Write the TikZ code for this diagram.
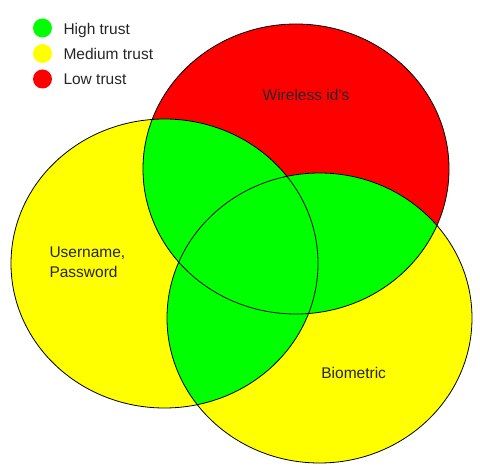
\documentclass[tikz,border=0pt]{standalone}
\usepackage{fontspec}
\setmainfont{Liberation Sans}
\definecolor{tgreen}{HTML}{00FF00}
\definecolor{tyellow}{HTML}{FFFF00}
\definecolor{tred}{HTML}{FF0000}
\begin{document}
\begin{tikzpicture}[x=1pt,y=-1pt,
  lbl/.style={font=\fontsize{15.5}{20}\selectfont, text=black!85, inner sep=0pt},
  dot/.style={circle, minimum size=19pt, inner sep=0pt},
  outline/.style={draw=black, line width=0.8pt}]
\useasboundingbox (0,0) rectangle (480,470);
\def\Lell{(164.5,263.5) ellipse [x radius=153.5, y radius=144.5]}
\def\Tell{(296,169) ellipse [x radius=153, y radius=145]}
\def\Bell{(319.5,318) ellipse [x radius=152.5, y radius=145]}
% base fills
\fill[tyellow] \Lell;
\fill[tred] \Tell;
\fill[tyellow] \Bell;
% pairwise overlaps
\begin{scope}\clip \Lell; \fill[tgreen] \Tell; \fill[tgreen] \Bell; \end{scope}
\begin{scope}\clip \Tell; \fill[tgreen] \Bell; \end{scope}
% outlines
\draw[outline] \Lell;
\draw[outline] \Tell;
\draw[outline] \Bell;
% labels
\node[lbl, anchor=base] (wir) at (306,101) {Wireless id's};
\node[lbl, anchor=base west, align=left] (usr) at (49.3,258) {Username,};
\node[lbl, anchor=base west] (pwd) at (49.3,278) {Password};
\node[lbl, anchor=base] (bio) at (353.7,379) {Biometric};
% legend
\node[dot, fill=tgreen] (lg) at (42.5,28) {};
\node[dot, fill=tyellow] (ly) at (42.5,53.5) {};
\node[dot, fill=tred] (lr) at (42.5,79) {};
\node[lbl, anchor=base west] (tg) at (63.3,35) {High trust};
\node[lbl, anchor=base west] (ty) at (63.3,60) {Medium trust};
\node[lbl, anchor=base west] (tr) at (63.3,85) {Low trust};
\end{tikzpicture}
\end{document}
